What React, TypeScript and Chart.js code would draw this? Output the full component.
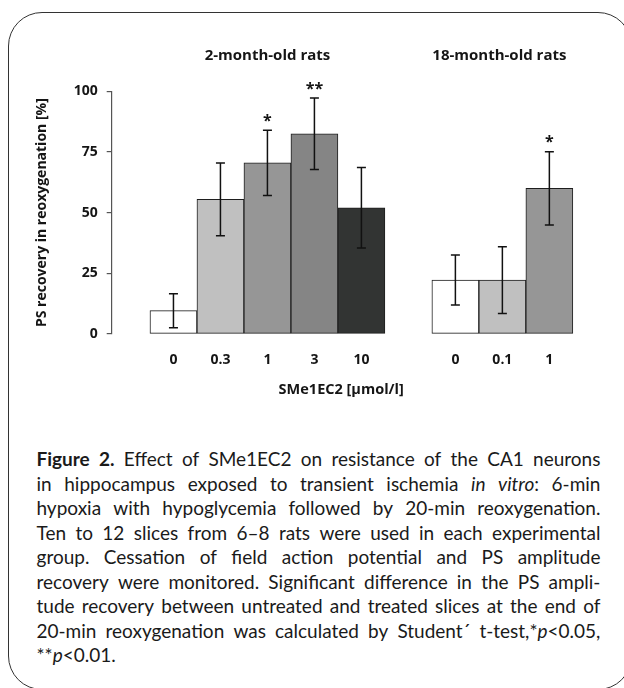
import React, { useEffect, useRef } from "react";
import { Chart, registerables } from "chart.js";

Chart.register(...registerables);

// ---- data ----
const group1Title = "2-month-old rats";
const group2Title = "18-month-old rats";
const group1Doses = ["0", "0.3", "1", "3", "10"];
const group1Means = [9.6, 55.5, 70.5, 82.5, 52.0];
const group1Errors = [7.0, 15.0, 13.4, 14.7, 16.6];
const group1Stars = ["", "", "*", "**", ""];
const group1Colors = ["#ffffff", "#c0c0c0", "#969696", "#858585", "#323433"];

const group2Doses = ["0", "0.1", "1"];
const group2Means = [22.2, 22.2, 60.0];
const group2Errors = [10.3, 13.8, 15.1];
const group2Stars = ["", "", "*"];
const group2Colors = ["#ffffff", "#c0c0c0", "#969696"];

const yTicks = [0, 25, 50, 75, 100];
const yTitle = "PS recovery in reoxygenation [%]";
const xTitle = "SMe1EC2 [µmol/l]";

// caption lines: ^ toggles bold, ~ toggles italic
const captionLines = [
  "^Figure 2.^ Effect of SMe1EC2 on resistance of the CA1 neurons",
  "in hippocampus exposed to transient ischemia ~in vitro~: 6-min",
  "hypoxia with hypoglycemia followed by 20-min reoxygenation.",
  "Ten to 12 slices from 6–8 rats were used in each experimental",
  "group. Cessation of field action potential and PS amplitude",
  "recovery were monitored. Significant difference in the PS ampli-",
  "tude recovery between untreated and treated slices at the end of",
  "20-min reoxygenation was calculated by Student´ t-test,*~p~<0.05,",
  "**~p~<0.01.",
];

// slot positions on the linear x axis (one empty slot separates the groups)
const group1Pos = group1Doses.map((_, i) => i);
const group2Pos = group2Doses.map((_, i) => group1Doses.length + 1 + i);

const allPos = [...group1Pos, ...group2Pos];
const allLabels = [...group1Doses, ...group2Doses];
const allMeans = [...group1Means, ...group2Means];
const allErrors = [...group1Errors, ...group2Errors];
const allStars = [...group1Stars, ...group2Stars];
const allColors = [...group1Colors, ...group2Colors];

const BOLD = "'Open Sans', 'DejaVu Sans', sans-serif";
const TXT = "#151515";

function ChartView() {
  const ref = useRef<HTMLCanvasElement | null>(null);
  useEffect(() => {
    if (!ref.current) return;
    const overlay = {
      id: "overlay",
      afterDatasetsDraw(chart: any) {
        const { ctx, chartArea } = chart;
        const xs = chart.scales.x;
        const ys = chart.scales.y;
        ctx.save();
        // error bars
        ctx.strokeStyle = "#111";
        ctx.lineWidth = 1.5;
        allPos.forEach((p, i) => {
          const px = xs.getPixelForValue(p);
          const top = ys.getPixelForValue(allMeans[i] + allErrors[i]);
          const bot = ys.getPixelForValue(allMeans[i] - allErrors[i]);
          ctx.beginPath();
          ctx.moveTo(px, top);
          ctx.lineTo(px, bot);
          ctx.moveTo(px - 4.5, top);
          ctx.lineTo(px + 4.5, top);
          ctx.moveTo(px - 4.5, bot);
          ctx.lineTo(px + 4.5, bot);
          ctx.stroke();
          if (allStars[i]) {
            ctx.fillStyle = TXT;
            ctx.font = `bold 16px ${BOLD}`;
            ctx.textAlign = "center";
            ctx.textBaseline = "alphabetic";
            ctx.fillText(allStars[i], px, top - 4.5);
          }
        });
        // group titles
        ctx.fillStyle = TXT;
        ctx.font = `bold 15px ${BOLD}`;
        ctx.textAlign = "center";
        ctx.textBaseline = "middle";
        const g1c = (xs.getPixelForValue(group1Pos[0]) + xs.getPixelForValue(group1Pos[group1Pos.length - 1])) / 2;
        const g2c = (xs.getPixelForValue(group2Pos[0]) + xs.getPixelForValue(group2Pos[group2Pos.length - 1])) / 2;
        ctx.fillText(group1Title, g1c, chartArea.top - 36);
        ctx.fillText(group2Title, g2c - 3, chartArea.top - 36);
        // x title
        ctx.font = `bold 14.5px ${BOLD}`;
        ctx.fillText(xTitle, chartArea.left + 229.5, chartArea.bottom + 56);
        // y title
        ctx.font = `bold 14px ${BOLD}`;
        ctx.translate(42, (chartArea.top + chartArea.bottom) / 2);
        ctx.rotate(-Math.PI / 2);
        ctx.fillText(yTitle, 0, 0);
        ctx.restore();
      },
    };
    const chart = new Chart(ref.current, {
      type: "bar",
      data: {
        datasets: [
          {
            data: allPos.map((p, i) => ({ x: p, y: allMeans[i] })),
            backgroundColor: allColors,
            borderColor: "#1e1e1e",
            borderWidth: 1,
            borderSkipped: false,
            barPercentage: 1,
            categoryPercentage: 1,
          },
        ],
      },
      options: {
        animation: false,
        responsive: false,
        maintainAspectRatio: false,
        layout: { padding: { left: 0, top: 91.3, right: 20.4, bottom: 46 } },
        plugins: { legend: { display: false }, tooltip: { enabled: false } },
        scales: {
          x: {
            type: "linear",
            min: -0.66,
            max: 8.5,
            grid: { display: false, drawTicks: false },
            border: { display: false },
            afterBuildTicks: (s: any) => {
              s.ticks = allPos.map((v) => ({ value: v }));
            },
            afterFit: (s: any) => {
              s.height = 40;
            },
            ticks: {
              autoSkip: false,
              maxRotation: 0,
              padding: 18,
              color: TXT,
              font: { family: BOLD, size: 14, weight: "bold" },
              callback: (v: any) => {
                const k = allPos.indexOf(Number(v));
                return k >= 0 ? allLabels[k] : "";
              },
            },
          },
          y: {
            min: 0,
            max: 100,
            afterBuildTicks: (s: any) => {
              s.ticks = yTicks.map((v) => ({ value: v }));
            },
            afterFit: (s: any) => {
              s.width = 111.7;
            },
            grid: { drawOnChartArea: false, drawTicks: true, tickLength: 5, color: "#555", lineWidth: 1.2 },
            border: { display: true, color: "#555", width: 1.2 },
            ticks: {
              padding: 9,
              color: TXT,
              font: { family: BOLD, size: 14, weight: "bold" },
            },
          },
        },
      },
      plugins: [overlay],
    } as any);
    return () => chart.destroy();
  }, []);
  return (
    <canvas
      ref={ref}
      width={624}
      height={420}
      style={{ position: "absolute", left: 0, top: 0, width: 624, height: 420 }}
    />
  );
}

function renderLine(line: string, justify: boolean, key: number) {
  let bold = false;
  let italic = false;
  const words = line.split(" ").map((w, wi) => {
    const parts: React.ReactNode[] = [];
    let buf = "";
    const flush = (k: number) => {
      if (buf) {
        parts.push(
          <span key={k} style={{ fontWeight: bold ? 700 : 400, fontStyle: italic ? "italic" : "normal" }}>
            {buf}
          </span>
        );
        buf = "";
      }
    };
    let k = 0;
    for (const ch of w) {
      if (ch === "^") {
        flush(k++);
        bold = !bold;
      } else if (ch === "~") {
        flush(k++);
        italic = !italic;
      } else buf += ch;
    }
    flush(k++);
    return (
      <span key={wi} style={{ whiteSpace: "pre", marginRight: justify ? 0 : "0.22em" }}>
        {parts}
      </span>
    );
  });
  return (
    <div
      key={key}
      style={{
        display: "flex",
        justifyContent: justify ? "space-between" : "flex-start",
        whiteSpace: "nowrap",
        height: 24.5,
        lineHeight: "24.5px",
      }}
    >
      {words}
    </div>
  );
}

export default function App() {
  return (
    <div
      style={{
        position: "fixed",
        left: 0,
        top: 0,
        width: 624,
        height: 688,
        overflow: "hidden",
        background: "#fff",
      }}
    >
      <div
        style={{
          position: "absolute",
          left: 8,
          top: 12,
          width: 624,
          height: 678,
          border: "1.3px solid #333",
          borderRadius: 34,
          boxSizing: "border-box",
        }}
      />
      <ChartView />
      <div
        style={{
          position: "absolute",
          left: 36.5,
          top: 447,
          width: 564,
          fontFamily: "Lato, 'Open Sans', sans-serif",
          fontSize: 19,
          color: "#1a1a1a",
        }}
      >
        {captionLines.map((l, i) => renderLine(l, i < captionLines.length - 1, i))}
      </div>
    </div>
  );
}
